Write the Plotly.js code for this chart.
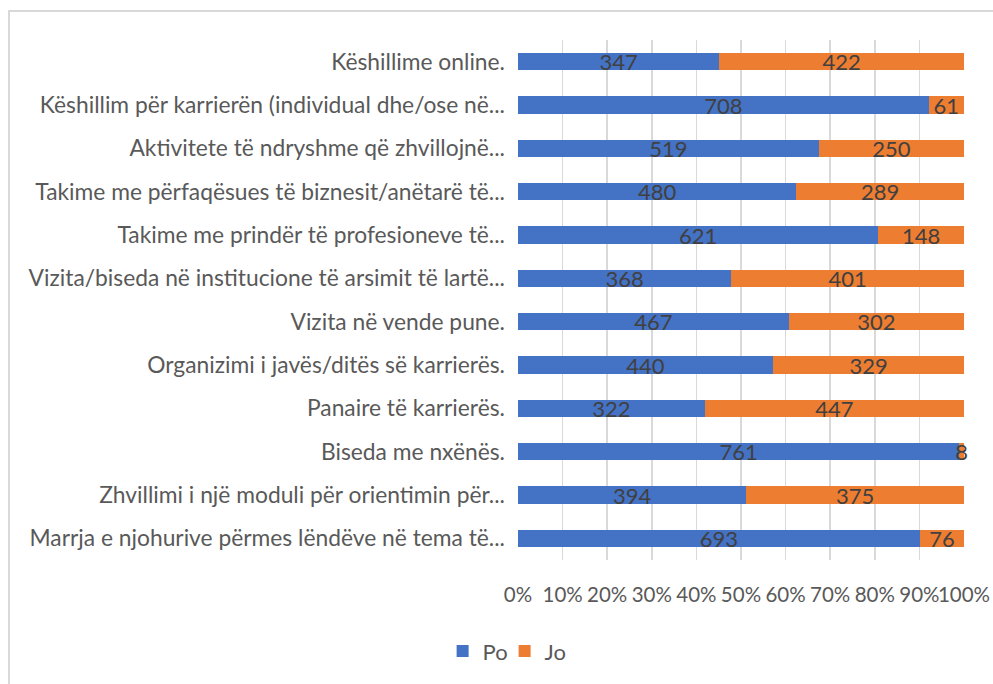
<!DOCTYPE html>
<html>
<head>
<meta charset="utf-8">
<script src="https://cdn.plot.ly/plotly-3.0.1.min.js"></script>
<style>
  html, body { margin: 0; padding: 0; background: #fff; }
  #frame { position: absolute; left: 8px; top: 10px; width: 1000px; height: 700px;
           border-top: 2px solid #d9d9d9; border-left: 2px solid #d9d9d9; }
  #chart { position: absolute; left: 0; top: 0; width: 993px; height: 684px; }
</style>
</head>
<body>
<div id="frame"></div>
<div id="chart"></div>
<script>
const categories = [
  "Këshillime online.",
  "Këshillim për karrierën (individual dhe/ose në...",
  "Aktivitete të ndryshme që zhvillojnë...",
  "Takime me përfaqësues të biznesit/anëtarë të...",
  "Takime me prindër të profesioneve të...",
  "Vizita/biseda në institucione të arsimit të lartë...",
  "Vizita në vende pune.",
  "Organizimi i javës/ditës së karrierës.",
  "Panaire të karrierës.",
  "Biseda me nxënës.",
  "Zhvillimi i një moduli për orientimin për...",
  "Marrja e njohurive përmes lëndëve në tema të..."
];
const po = [347, 708, 519, 480, 621, 368, 467, 440, 322, 761, 394, 693];
const jo = [422, 61, 250, 289, 148, 401, 302, 329, 447, 8, 375, 76];
const tickVals = [0, 10, 20, 30, 40, 50, 60, 70, 80, 90, 100];
const tickText = ["0%", "10%", "20%", "30%", "40%", "50%", "60%", "70%", "80%", "90%", "100%"];

const font = "Lato, 'Open Sans', sans-serif";
const FS = 22;
const common = {
  type: "bar", orientation: "h", y: categories,
  textposition: "inside", insidetextanchor: "middle", constraintext: "none", textangle: 0,
  textfont: { family: font, size: FS, color: "#404040" },
  cliponaxis: false, hoverinfo: "x+y"
};
const data = [
  Object.assign({}, common, { name: "Po", x: po, text: po.map(String), texttemplate: "%{text}", marker: { color: "#4472C4" } }),
  Object.assign({}, common, { name: "Jo", x: jo, text: jo.map(String), texttemplate: "%{text}", marker: { color: "#ED7D31" } })
];
const layout = {
  width: 993, height: 684,
  paper_bgcolor: "rgba(0,0,0,0)", plot_bgcolor: "rgba(0,0,0,0)",
  barmode: "stack", barnorm: "percent", bargap: 0.6,
  margin: { l: 518, r: 29, t: 40, b: 119 },
  font: { family: font, size: FS, color: "#595959" },
  xaxis: {
    range: [0, 100.01], tickvals: tickVals, ticktext: tickText, tickangle: 0,
    showgrid: true, gridcolor: "#d9d9d9", gridwidth: 1.5,
    zeroline: false, showline: false, ticks: "", ticklen: 0, ticklabelstandoff: 20,
    tickfont: { family: font, size: 20.5, color: "#595959" }, fixedrange: true
  },
  yaxis: {
    autorange: "reversed", showgrid: false, zeroline: false, showline: false,
    ticks: "", ticklabelstandoff: 12, tickfont: { family: font, size: 22.8, color: "#595959" }, fixedrange: true
  },
  showlegend: true,
  legend: {
    orientation: "h", x: -0.03, xanchor: "center", y: -0.135, yanchor: "top",
    font: { family: font, size: FS, color: "#595959" }, traceorder: "normal",
    itemwidth: 30, entrywidth: 17, entrywidthmode: "pixels"
  }
};
Plotly.newPlot("chart", data, layout, { displayModeBar: false, staticPlot: true });
</script>
</body>
</html>
